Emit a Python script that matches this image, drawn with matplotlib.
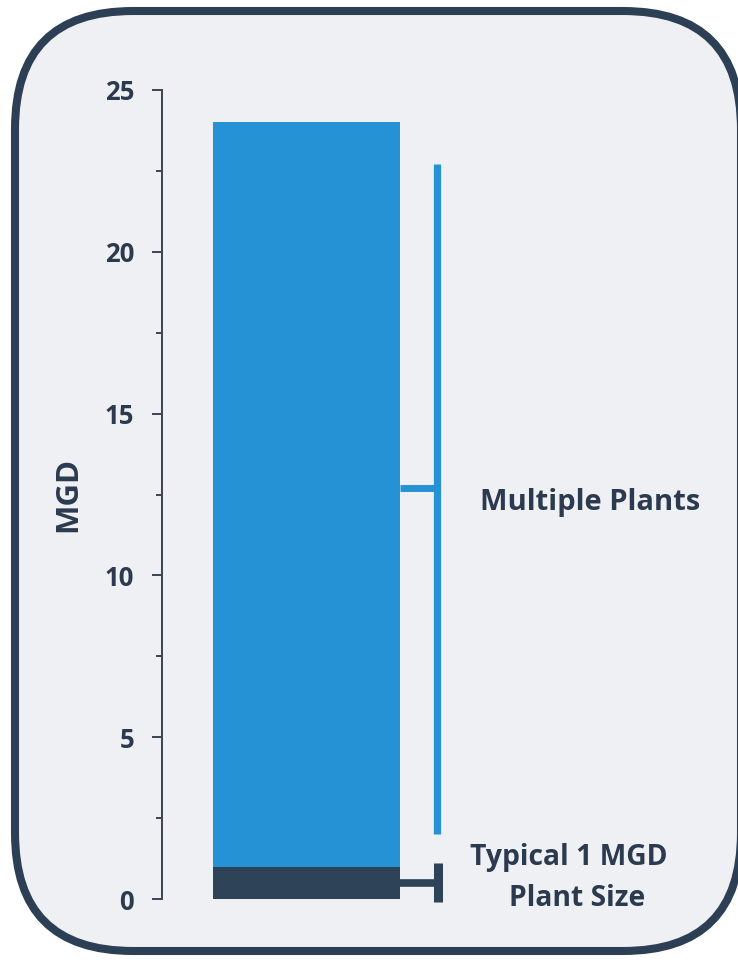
import matplotlib
matplotlib.use("Agg")
import matplotlib.pyplot as plt
from matplotlib.patches import FancyBboxPatch

# --- data ---------------------------------------------------------------
segment_labels = ["Typical 1 MGD Plant Size", "Multiple Plants"]
segment_values = [1, 23]            # stacked: 0-1 single plant, 1-24 multiple plants
segment_colors = ["#2e4258", "#2592d6"]

y_ticks = [0, 5, 10, 15, 20, 25]
y_minor = [2.5, 7.5, 12.5, 17.5, 22.5]
y_label = "MGD"

# bracket spans (bottom, top, arm level) for each annotation
multi_bracket = (2.0, 22.7, 12.7)
single_bracket = (-0.1, 1.1, 0.5)

# --- figure -------------------------------------------------------------
W, H, DPI = 738, 960, 100
TEXT = "#2b3a4e"
BG = "#eef0f3"
FAM = ["Open Sans", "DejaVu Sans"]
fig = plt.figure(figsize=(W / DPI, H / DPI), dpi=DPI)
fig.patch.set_facecolor("white")

# background panel with rounded frame (pixel coordinates)
bg = fig.add_axes([0, 0, 1, 1])
bg.set_xlim(0, W)
bg.set_ylim(H, 0)
bg.axis("off")
panel = FancyBboxPatch((15 + 118, 11 + 118), (741 - 15) - 236, (951 - 11) - 236,
                       boxstyle="round,pad=118", facecolor=BG,
                       edgecolor="#2c3f55", linewidth=5.8)
bg.add_patch(panel)

# main chart axes: left spine at x=162px, y=0 at 899px, y=25 at 90px
x0, x1 = 162, 738
y_bot, y_top = 899, 90
ax = fig.add_axes([x0 / W, 1 - y_bot / H, (x1 - x0) / W, (y_bot - y_top) / H])
ax.set_xlim(0, x1 - x0)
ax.set_ylim(0, 25)
ax.patch.set_alpha(0)
for s in ["top", "right", "bottom"]:
    ax.spines[s].set_visible(False)
ax.spines["left"].set_color("#3b4452")
ax.spines["left"].set_linewidth(1.4)
ax.set_xticks([])
ax.set_yticks(y_ticks)
ax.set_yticks(y_minor, minor=True)
ax.tick_params(axis="y", which="major", length=7, width=1.4, color="#3b4452",
               pad=13, labelsize=18.5, labelcolor=TEXT)
ax.tick_params(axis="y", which="minor", length=4.5, width=1.4, color="#3b4452")
for lab in ax.get_yticklabels():
    lab.set_fontfamily(FAM)
    lab.set_fontweight("bold")
ax.set_ylabel(y_label, fontsize=22.5, fontweight="bold", color=TEXT, family=FAM)
ax.yaxis.set_label_coords((83 - x0) / (x1 - x0), 0.5)

# stacked bar
bar_x, bar_w = 144.5, 187
bottom = 0
for val, col in zip(segment_values, segment_colors):
    ax.bar(bar_x, val, width=bar_w, bottom=bottom, color=col, linewidth=0)
    bottom += val

bar_right = bar_x + bar_w / 2
br_x = 437 - x0

# multiple plants bracket
lo, hi, mid = multi_bracket
ax.plot([br_x, br_x], [lo, hi], color=segment_colors[1], lw=5.2,
        solid_capstyle="butt", clip_on=False)
ax.plot([bar_right, br_x], [mid, mid], color=segment_colors[1], lw=5.0,
        solid_capstyle="butt", clip_on=False)

# single plant bracket
lo, hi, mid = single_bracket
ax.plot([br_x + 1, br_x + 1], [lo, hi], color=segment_colors[0], lw=6.5,
        solid_capstyle="butt", clip_on=False)
ax.plot([bar_right, br_x + 1], [mid, mid], color=segment_colors[0], lw=5.5,
        solid_capstyle="butt", clip_on=False)

font = dict(fontweight="bold", color=TEXT, family=FAM,
            ha="center", va="center", clip_on=False)
ax.text(590 - x0, 12.25, segment_labels[1], fontsize=21, **font)
ax.text(569 - x0, 1.27, "Typical 1 MGD", fontsize=20.3, **font)
ax.text(577 - x0, 0.03, "Plant Size", fontsize=20.3, **font)

fig.savefig("out.png", dpi=DPI)
